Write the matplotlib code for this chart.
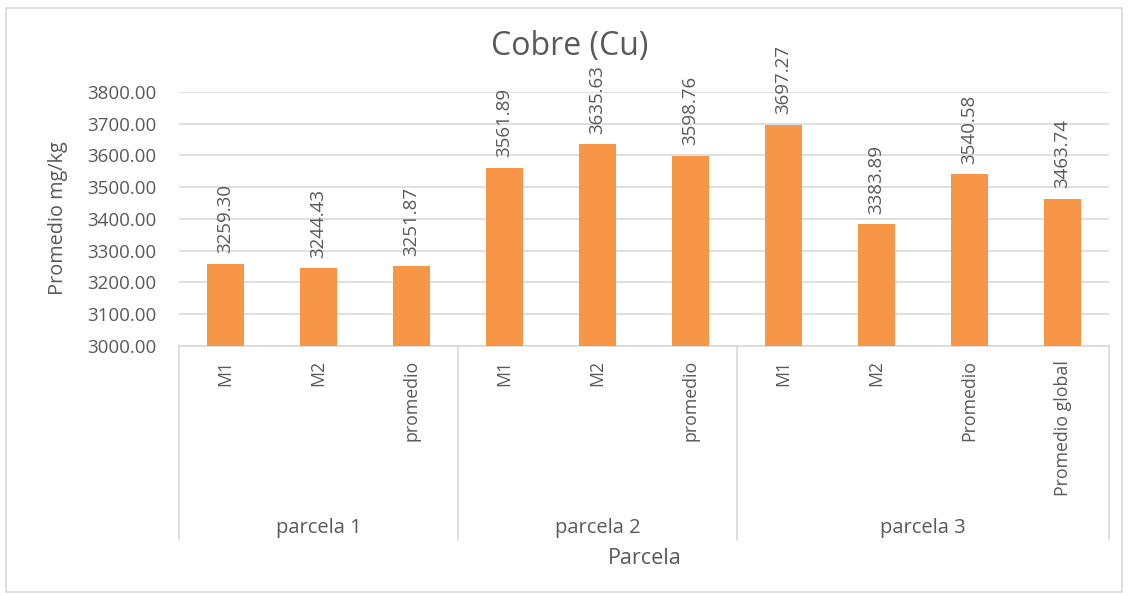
import matplotlib
matplotlib.use("Agg")
import matplotlib.pyplot as plt
from matplotlib.patches import Rectangle
import matplotlib.transforms as mtransforms

# Copper content per sample, grouped by plot
samples = ["M1", "M2", "promedio", "M1", "M2", "promedio", "M1", "M2", "Promedio", "Promedio global"]
values = [3259.30, 3244.43, 3251.87, 3561.89, 3635.63, 3598.76, 3697.27, 3383.89, 3540.58, 3463.74]
groups = ["parcela 1", "parcela 2", "parcela 3"]
group_sizes = [3, 3, 4]
yticks = [3000, 3100, 3200, 3300, 3400, 3500, 3600, 3700, 3800]

BAR = "#F79646"
TXT = "#595959"
GRID = "#D9D9D9"

plt.rcParams["font.family"] = ["Open Sans", "DejaVu Sans"]

fig = plt.figure(figsize=(11.29, 5.95), dpi=100)
ax = fig.add_axes([0.1585, 0.4185, 0.8238, 0.4269])

x = list(range(len(values)))
ax.bar(x, values, width=0.4, color=BAR, zorder=3)
ax.set_xlim(-0.5, len(values) - 0.5)
ax.set_ylim(3000, 3800)
ax.set_yticks(yticks)
ax.set_yticklabels([f"{v:.2f}" for v in yticks], fontsize=13.5, color=TXT)
ax.tick_params(axis="y", length=0, pad=16)
ax.set_xticks([])
ax.grid(axis="y", color=GRID, linewidth=1.2, zorder=0)
for s in ["top", "right", "left"]:
    ax.spines[s].set_visible(False)
ax.spines["bottom"].set_color(GRID)
ax.spines["bottom"].set_linewidth(1.2)

# value labels above bars
for xi, v in zip(x, values):
    ax.annotate(f"{v:.2f}", (xi, v), xytext=(0, 7.5), textcoords="offset points",
                rotation=90, ha="center", va="bottom", fontsize=13.5, color=TXT)

# multi-level category axis
trans = mtransforms.blended_transform_factory(ax.transData, ax.transAxes)
for xi, lab in zip(x, samples):
    ax.text(xi, -0.055, lab, rotation=90, ha="center", va="top", fontsize=12.8,
            color=TXT, transform=trans)

bounds = [-0.5]
for n in group_sizes:
    bounds.append(bounds[-1] + n)
for b in bounds:
    ax.plot([b, b], [0, -0.765], color=GRID, linewidth=1.2, transform=trans, clip_on=False)
for g, lo, hi in zip(groups, bounds[:-1], bounds[1:]):
    ax.text((lo + hi) / 2, -0.717, g, ha="center", va="center", fontsize=14.5,
            color=TXT, transform=trans)

fig.text(0.505, 0.922, "Cobre (Cu)", ha="center", va="center", fontsize=23, color=TXT)
fig.text(0.571, 0.061, "Parcela", ha="center", va="center", fontsize=15.5, color=TXT)
fig.text(0.051, 0.634, "Promedio mg/kg", ha="center", va="center", rotation=90,
         fontsize=14.3, color=TXT)

fig.patches.append(Rectangle((6 / 1129, 3 / 595), 1116 / 1129, 584 / 595,
                             transform=fig.transFigure, fill=False,
                             edgecolor=GRID, linewidth=1.2))

fig.savefig("out.png", dpi=100)
